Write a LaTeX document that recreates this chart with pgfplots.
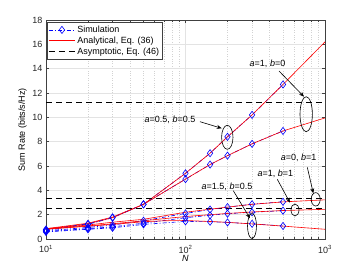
\documentclass[border=0pt]{standalone}
\usepackage{fontspec}
\setmainfont{Liberation Sans}
\usepackage{pgfplots}
\pgfplotsset{compat=1.18}
\usetikzlibrary{arrows.meta}
\definecolor{axgray}{gray}{0.25}
\begin{document}
\begin{tikzpicture}
\path[use as bounding box] (-46pt,-30pt) rectangle (313pt,239pt);
\begin{axis}[
  at={(0,0)}, anchor=south west, scale only axis,
  width=279pt, height=219pt,
  xmode=log, xmin=10, xmax=1000, ymin=0, ymax=18,
  ytick={0,2,...,18},
  xtick={10,100,1000},
  xticklabels={10\textsuperscript{1},10\textsuperscript{2},10\textsuperscript{3}},
  xticklabel style={yshift=-2.5pt},
  /pgf/number format/assume math mode=true,
  font=\fontsize{9}{10}\selectfont,
  tick align=inside, major tick length=3pt, minor tick length=1.6pt,
  axis line style={axgray, line width=0.5pt},
  every tick/.style={axgray, line width=0.4pt},
  ticklabel style={text=black!85},
  grid=both,
  major grid style={gray!22, line width=0.4pt},
  minor x grid style={gray!35, dotted, line width=0.4pt},
  minor y tick num=0,
  ylabel={Sum Rate (bits/s/Hz)},
  ylabel style={at={(axis description cs:-0.084,0.5)}, anchor=center},
  xlabel={\textit{N}},
  xlabel style={at={(axis description cs:0.5,-0.087)}, anchor=center},
  legend style={at={(axis cs:10.2,17.8)}, anchor=north west, draw=axgray, line width=0.5pt,
    fill=white, font=\fontsize{9}{10}\selectfont, inner sep=1.2pt, row sep=-1.2pt,
    /tikz/every even column/.append style={column sep=0pt}},
  legend cell align=left,
  legend image code/.code={\draw[#1] (0pt,0pt) -- (26pt,0pt); \path[#1] plot coordinates {(13pt,0pt)};},
  clip=true,
]
% Simulation
\addplot[blue, line width=0.6pt, dash pattern=on 4pt off 2pt on 1pt off 2pt,
  mark=diamond, mark size=3.6pt, mark options={solid, fill=none}] coordinates {
 (10,0.72) (20,1.2) (30,1.75) (50,2.85) (100,5.4) (150,7.05) (200,8.4) (300,10.2) (500,12.7)};
\addlegendentry{Simulation}
% Analytical
\addplot[red, line width=0.6pt] coordinates {
 (10,0.8) (20,1.25) (30,1.75) (50,2.85) (100,5.4) (150,7.05) (200,8.4) (300,10.2) (500,12.7) (1000,16.2)};
\addlegendentry{Analytical, Eq. (36)}
% Asymptotic
\addplot[black, line width=0.6pt, dash pattern=on 6pt off 4pt] coordinates {(10,11.23) (1000,11.23)};
\addlegendentry{Asymptotic, Eq. (46)}
\addplot[black, line width=0.6pt, dash pattern=on 6pt off 4pt, forget plot] coordinates {(10,3.32) (1000,3.32)};
\addplot[black, line width=0.6pt, dash pattern=on 6pt off 4pt, forget plot] coordinates {(10,2.5) (1000,2.5)};
% other simulations
\addplot[blue, line width=0.6pt, dash pattern=on 4pt off 2pt on 1pt off 2pt,
  mark=diamond, mark size=3.6pt, mark options={solid, fill=none}, forget plot] coordinates {
 (10,0.78) (20,1.25) (30,1.78) (50,2.85) (100,4.92) (150,6.12) (200,6.85) (300,7.82) (500,8.88)};
\addplot[blue, line width=0.6pt, dash pattern=on 4pt off 2pt on 1pt off 2pt,
  mark=diamond, mark size=3.6pt, mark options={solid, fill=none}, forget plot] coordinates {
 (10,0.68) (20,0.95) (30,1.15) (50,1.5) (100,2.1) (150,2.42) (200,2.62) (300,2.86) (500,3.06)};
\addplot[blue, line width=0.6pt, dash pattern=on 4pt off 2pt on 1pt off 2pt,
  mark=diamond, mark size=3.6pt, mark options={solid, fill=none}, forget plot] coordinates {
 (10,0.62) (20,0.85) (30,1.0) (50,1.3) (100,1.75) (150,1.95) (200,2.08) (300,2.2) (500,2.33)};
\addplot[blue, line width=0.6pt, dash pattern=on 4pt off 2pt on 1pt off 2pt,
  mark=diamond, mark size=3.6pt, mark options={solid, fill=none}, forget plot] coordinates {
 (10,0.58) (20,0.8) (30,0.92) (50,1.2) (100,1.45) (150,1.42) (200,1.36) (300,1.25) (500,1.07)};
% other analytical
\addplot[red, line width=0.6pt, forget plot] coordinates {
 (10,0.85) (20,1.3) (30,1.8) (50,2.85) (100,4.92) (150,6.12) (200,6.85) (300,7.82) (500,8.88) (1000,9.95)};
\addplot[red, line width=0.6pt, forget plot] coordinates {
 (10,0.85) (20,1.15) (30,1.38) (50,1.62) (100,2.2) (150,2.45) (200,2.62) (300,2.85) (500,3.05) (1000,3.22)};
\addplot[red, line width=0.6pt, forget plot] coordinates {
 (10,0.82) (20,1.08) (30,1.25) (50,1.5) (100,1.85) (150,2.0) (200,2.1) (300,2.22) (500,2.34) (1000,2.44)};
\addplot[red, line width=0.6pt, forget plot] coordinates {
 (10,0.8) (20,1.05) (30,1.2) (50,1.42) (70,1.5) (100,1.52) (150,1.44) (200,1.37) (300,1.24) (500,1.06) (1000,0.8)};
\end{axis}
% annotations
\begin{scope}[font=\fontsize{9}{10}\selectfont, line width=0.6pt]
\node at (221.5pt,174.7pt) {\textit{a}=1, \textit{b}=0};
\draw[-{Stealth[length=5pt,width=4pt]}] (233pt,168pt) -- (258pt,142.3pt);
\draw (260.2pt,124.8pt) ellipse (6.2pt and 17.5pt);
\node at (124pt,119pt) {\textit{a}=0.5, \textit{b}=0.5};
\draw[-{Stealth[length=5pt,width=4pt]}] (154pt,117.3pt) -- (175.7pt,110.7pt);
\draw (181.3pt,101.7pt) ellipse (5.7pt and 12pt);
\node at (252.7pt,80.7pt) {\textit{a}=0, \textit{b}=1};
\draw[-{Stealth[length=5pt,width=4pt]}] (261.3pt,71.7pt) -- (267.3pt,45.7pt);
\draw (269.7pt,39.7pt) ellipse (4.5pt and 6.7pt);
\node at (229.3pt,64.7pt) {\textit{a}=1, \textit{b}=1};
\draw[-{Stealth[length=5pt,width=4pt]}] (231.3pt,59.7pt) -- (244pt,36.3pt);
\draw (249pt,29pt) ellipse (4pt and 6pt);
\node at (181pt,52.3pt) {\textit{a}=1.5, \textit{b}=0.5};
\draw[-{Stealth[length=5pt,width=4pt]}] (187.3pt,48.3pt) -- (204pt,20.7pt);
\draw (206pt,13pt) ellipse (4.5pt and 12.5pt);
\end{scope}
\end{tikzpicture}
\end{document}
